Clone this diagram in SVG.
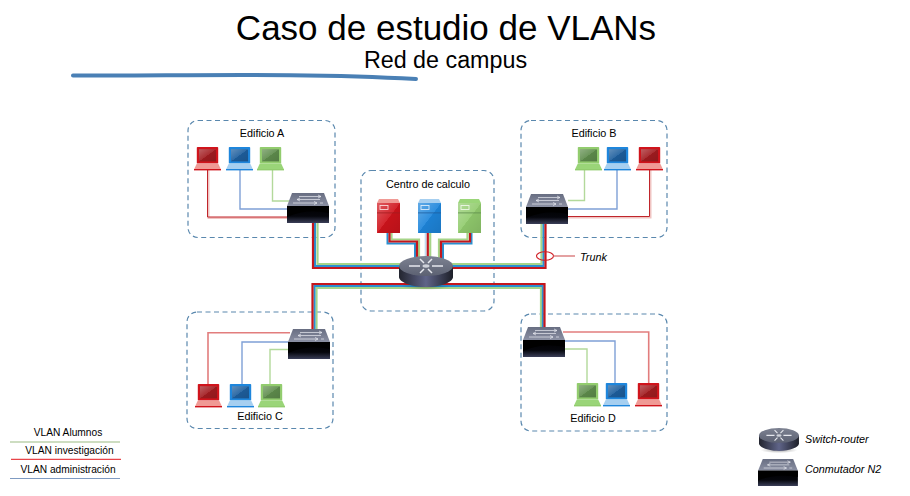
<svg xmlns="http://www.w3.org/2000/svg" xmlns:xlink="http://www.w3.org/1999/xlink" width="910" height="496" viewBox="0 0 910 496">
<style>
text{font-family:"Liberation Sans",Arial,sans-serif;fill:#000}
.lbl{font-size:10.8px;text-anchor:middle}
.leg{font-size:10.2px;text-anchor:middle}
.it{font-size:10.8px;font-style:italic}
.zone{fill:none;stroke:#5a88ae;stroke-width:1.2;stroke-dasharray:5 3.5}
.l{fill:none}
.r{stroke:#c4161c;stroke-width:2.2}
.b{stroke:#2a8fd0;stroke-width:2}
.g{stroke:#a6d488;stroke-width:2.2}
.rt{stroke:#c0252b;stroke-width:1}
.rh{stroke:#f0c4c2;stroke-width:2}
.bt{stroke:#7fa0d6;stroke-width:1.4}
.gt{stroke:#b3d99b;stroke-width:1.4}
.rs{stroke:#e27d7d;stroke-width:1.6}
.red{--c:#d0141c;--d:#a21c20;--h:#f09a95}
.blue{--c:#1e86dc;--d:#1e5f9e;--h:#a6cff0}
.green{--c:#92cc6e;--d:#5f8d4d;--h:#9ad578}
</style>
<defs>
<linearGradient id="gloss" x1="0" y1="0" x2="1" y2="1"><stop offset="0" stop-color="#fff" stop-opacity=".3"/><stop offset=".5" stop-color="#fff" stop-opacity=".08"/><stop offset=".51" stop-color="#000" stop-opacity=".05"/><stop offset="1" stop-color="#000" stop-opacity=".12"/></linearGradient>
<linearGradient id="swTop" x1="0" y1="0" x2="0" y2="1"><stop offset="0" stop-color="#686e82"/><stop offset="1" stop-color="#8b90a3"/></linearGradient>
<linearGradient id="swBody" x1="0" y1="0" x2="0" y2="1"><stop offset="0" stop-color="#000"/><stop offset=".6" stop-color="#05060c"/><stop offset="1" stop-color="#3a3e58"/></linearGradient>
<linearGradient id="rtSide" x1="0" y1="0" x2="1" y2="0"><stop offset="0" stop-color="#23252f"/><stop offset=".5" stop-color="#5f6488"/><stop offset="1" stop-color="#1d1f28"/></linearGradient>
<linearGradient id="rtTop" x1="0" y1="0" x2="0" y2="1"><stop offset="0" stop-color="#7d8292"/><stop offset="1" stop-color="#5c6172"/></linearGradient>
<radialGradient id="shadow"><stop offset="0" stop-color="#000" stop-opacity=".35"/><stop offset="1" stop-color="#000" stop-opacity="0"/></radialGradient>
<symbol id="laptop" width="27" height="24" viewBox="0 0 27 24" overflow="visible">
<rect x="2.8" y="0" width="21.4" height="16.5" rx=".8" fill="var(--c)"/>
<rect x="5" y="2.2" width="17" height="12.2" fill="var(--d)"/>
<rect x="5" y="2.2" width="17" height="12.2" fill="url(#gloss)"/>
<path d="M2.800 16.500H24.200L27 22.500H0Z" fill="var(--h)"/>
<rect x="0" y="22" width="27" height="1.400" fill="var(--c)"/>
</symbol>
<symbol id="server" width="23" height="34" viewBox="0 0 23 34" overflow="visible">
<path d="M2 0H21L23 4H0Z" fill="var(--h)"/>
<rect x="0" y="4" width="23" height="30" fill="var(--c)"/>
<rect x="0" y="4" width="23" height="30" fill="url(#gloss)"/>
<rect x="0" y="13.500" width="23" height=".8" fill="var(--d)"/>
<rect x="3" y="6.500" width="8" height="4" fill="none" stroke="#fff" stroke-opacity=".8" stroke-width=".9"/>
</symbol>
<symbol id="switch" width="42" height="30" viewBox="0 0 42 30" overflow="visible">
<path d="M5 0H37L42 13H0Z" fill="url(#swTop)"/>
<rect x="0" y="13" width="42" height="17" fill="url(#swBody)"/>
<path d="M0 24Q20 15 42 20V13H0Z" fill="#000"/>
<g stroke="#e8eaf0" stroke-width=".7" fill="none"><path d="M12 3.500H34M31 2L34 3.500L31 5"/><path d="M33 6.500H10M13 5L10 6.500L13 8"/><path d="M6 10H30M27 8.500L30 10L27 11.500"/><path d="M36 10H33"/></g>
</symbol>
<symbol id="router" width="54" height="34" viewBox="0 0 54 34" overflow="visible">
<ellipse cx="27" cy="30" rx="25" ry="4" fill="url(#shadow)"/>
<path d="M0 10V21C0 26 12 31 27 31S54 26 54 21V10Z" fill="url(#rtSide)"/>
<ellipse cx="27" cy="10" rx="27" ry="10" fill="url(#rtTop)"/>
<g stroke="#e6e8ee" stroke-width="1.500" fill="none"><path d="M10 10H21M33 10H44M21 3L25 7M29 13L33 17M33 3L29 7M25 13L21 17"/></g>
<ellipse cx="27" cy="10" rx="3.500" ry="1.700" fill="#cfd2da"/>
</symbol>
</defs>

<g id="title">
<text x="446" y="40" font-size="35" text-anchor="middle">Caso de estudio de VLANs</text>
<text x="445.500" y="68" font-size="23.300" text-anchor="middle">Red de campus</text>
<path d="M73 75.500C180 76 300 72.500 416 79" fill="none" stroke="#4a80b5" stroke-width="4" stroke-linecap="round"/>
</g>

<g id="zone-a"><rect class="zone" x="188" y="120.500" width="147" height="117" rx="10"/><text class="lbl" x="262" y="137">Edificio A</text></g>
<g id="zone-b"><rect class="zone" x="521" y="120.500" width="146" height="117" rx="10"/><text class="lbl" x="594" y="137">Edificio B</text></g>
<g id="zone-center"><rect class="zone" x="361" y="170.500" width="133" height="140.500" rx="10"/><text class="lbl" x="428" y="188">Centro de calculo</text></g>
<g id="zone-c"><rect class="zone" x="187" y="312" width="146" height="116.500" rx="10"/><text class="lbl" x="260" y="420">Edificio C</text></g>
<g id="zone-d"><rect class="zone" x="521" y="314" width="146" height="117" rx="10"/><text class="lbl" x="593" y="422">Edificio D</text></g>

<g id="connectors" class="l">
<path class="rh" d="M208.500 170V218H287"/>
<path class="rt" d="M207.500 170V217H287"/>
<path class="bt" d="M240 170V209H287"/>
<path class="gt" d="M272.500 170V201H290"/>
<path class="gt" d="M584.500 170V200.500H568"/>
<path class="bt" d="M617 170V209H568"/>
<path class="rh" d="M650.500 170V217.500H568"/>
<path class="rt" d="M649.500 170V216.500H568"/>
<path class="rs" d="M208 384V332.700H290"/>
<path class="bt" d="M242 384V342H290"/>
<path class="gt" d="M270 384V349.500H290"/>
<path class="rs" d="M648.700 384V332H563"/>
<path class="bt" d="M615 384V341H563"/>
<path class="gt" d="M587 384V349H563"/>
<path class="g" d="M317.500 222V264H541.500V222"/>
<path class="b" d="M315 222V266H543.500V222"/>
<path class="r" d="M313 222V268H545.500V222"/>
<path class="g" d="M316.500 330V288H541V328"/>
<path class="b" d="M314.500 330V286H542.800V328"/>
<path class="r" d="M312.500 330V284H544.500V328"/>
<path class="b" d="M387.500 233V243.500H415V260"/>
<path class="g" d="M391.500 233V239.500H419V260"/>
<path class="r" d="M389.500 233V241.500H417V260"/>
<path class="g" d="M430.200 233V260"/>
<path class="b" d="M425.700 233V260" stroke-opacity=".3"/>
<path class="r" d="M427.800 233V260"/>
<path class="b" d="M471.500 233V243.500H443V260"/>
<path class="g" d="M467.500 233V239.500H439V260"/>
<path class="r" d="M470 233V241.500H441V260"/>
<ellipse cx="545" cy="256" rx="8.500" ry="4.200" stroke="#d01f25" stroke-width="1.100"/>
<path d="M553.500 256H575" stroke="#d9797a" stroke-width="1.400"/>
</g>

<g id="laptop-a-red" class="red"><use xlink:href="#laptop" href="#laptop" x="194" y="147"/></g>
<g id="laptop-a-blue" class="blue"><use xlink:href="#laptop" href="#laptop" x="226" y="147"/></g>
<g id="laptop-a-green" class="green"><use xlink:href="#laptop" href="#laptop" x="257" y="147"/></g>
<g id="switch-a"><use xlink:href="#switch" href="#switch" x="287" y="193"/></g>

<g id="laptop-b-green" class="green"><use xlink:href="#laptop" href="#laptop" x="575" y="147"/></g>
<g id="laptop-b-blue" class="blue"><use xlink:href="#laptop" href="#laptop" x="604" y="147"/></g>
<g id="laptop-b-red" class="red"><use xlink:href="#laptop" href="#laptop" x="636" y="147"/></g>
<g id="switch-b"><use xlink:href="#switch" href="#switch" x="526" y="194"/></g>

<g id="server-red" class="red"><use xlink:href="#server" href="#server" x="377" y="199"/></g>
<g id="server-blue" class="blue"><use xlink:href="#server" href="#server" x="418" y="199"/></g>
<g id="server-green" class="green"><use xlink:href="#server" href="#server" x="458" y="199"/></g>
<g id="router-main"><use xlink:href="#router" href="#router" x="399" y="256"/></g>

<g id="laptop-c-red" class="red"><use xlink:href="#laptop" href="#laptop" x="195" y="384"/></g>
<g id="laptop-c-blue" class="blue"><use xlink:href="#laptop" href="#laptop" x="227" y="384"/></g>
<g id="laptop-c-green" class="green"><use xlink:href="#laptop" href="#laptop" x="258" y="384"/></g>
<g id="switch-c"><use xlink:href="#switch" href="#switch" x="288" y="329"/></g>

<g id="laptop-d-green" class="green"><use xlink:href="#laptop" href="#laptop" x="574" y="383"/></g>
<g id="laptop-d-blue" class="blue"><use xlink:href="#laptop" href="#laptop" x="603" y="383"/></g>
<g id="laptop-d-red" class="red"><use xlink:href="#laptop" href="#laptop" x="635" y="383"/></g>
<g id="switch-d"><use xlink:href="#switch" href="#switch" x="523" y="327"/></g>

<text class="it" x="580" y="261">Trunk</text>

<g id="legend-vlan">
<text class="leg" x="68" y="436">VLAN Alumnos</text>
<path d="M10 442H120" stroke="#9bbb83" stroke-width="1.200"/>
<text class="leg" x="69.500" y="453.500">VLAN investigación</text>
<path d="M11 459.300H121" stroke="#e8454a" stroke-width="1.200"/>
<text class="leg" x="68" y="473">VLAN administración</text>
<path d="M10 478.500H120" stroke="#7f9bc2" stroke-width="1.200"/>
</g>
<g id="legend-router"><use xlink:href="#router" href="#router" transform="translate(759 428) scale(.74)"/><text class="it" x="805" y="443">Switch-router</text></g>
<g id="legend-switch"><use xlink:href="#switch" href="#switch" transform="translate(758 459) scale(.95 .9)"/><text class="it" x="805" y="473">Conmutador N2</text></g>
</svg>
